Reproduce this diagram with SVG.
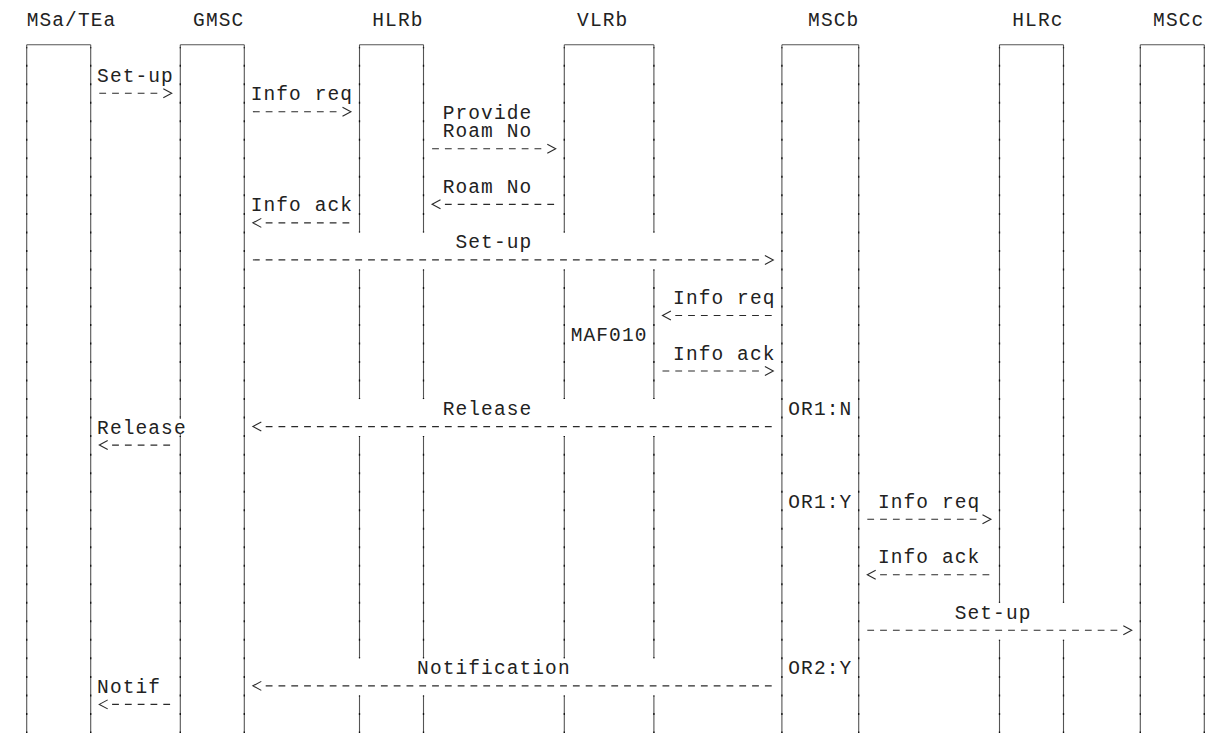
<svg xmlns="http://www.w3.org/2000/svg" width="1211" height="733" viewBox="0 0 1211 733">
<style>
  text { font-family: "Liberation Mono", "Courier New", monospace; font-size: 19.5px; letter-spacing: 1.1px; fill: #222; }
  .ll { stroke: #555; stroke-width: 1.1; fill: none; }
  .tk { stroke: #111; stroke-width: 1.3; fill: none; stroke-dasharray: 1 16.52 1 0; }
  .top { stroke: #555; stroke-width: 1.1; fill: none; }
  .msg { stroke: #2a2a2a; stroke-width: 1.1; fill: none; stroke-dasharray: 6.8 6; }
  .msg.r { marker-end: url(#ahR); }
  .msg.l { marker-end: url(#ahL); }
</style>
<defs>
  <marker id="ahR" markerUnits="userSpaceOnUse" markerWidth="20" markerHeight="12" refX="0" refY="6" orient="auto" overflow="visible">
    <path d="M6,1.5 L14.4,6 L6,10.5" fill="none" stroke="#2a2a2a" stroke-width="1.1" stroke-dasharray="none"/>
  </marker>
  <marker id="ahL" markerUnits="userSpaceOnUse" markerWidth="20" markerHeight="12" refX="0" refY="6" orient="auto" overflow="visible">
    <path d="M4.4,1.5 L12.8,6 L4.4,10.5" fill="none" stroke="#2a2a2a" stroke-width="1.1" stroke-dasharray="none"/>
  </marker>
</defs>
<rect width="1211" height="733" fill="#ffffff"/>

<g id="MSaTEa">
  <text x="26.7" y="25.7">MSa/TEa</text>
  <line class="top" x1="26.7" y1="44.7" x2="90.7" y2="44.7"/>
  <line class="ll" x1="26.7" y1="44.7" x2="26.7" y2="733"/>
  <line class="ll" x1="90.7" y1="44.7" x2="90.7" y2="733"/>
  <line class="tk" x1="26.7" y1="47.2" x2="26.7" y2="733"/>
  <line class="tk" x1="90.7" y1="47.2" x2="90.7" y2="733"/>
</g>

<g id="GMSC">
  <text x="193.1" y="25.7">GMSC</text>
  <line class="top" x1="180.3" y1="44.7" x2="244.3" y2="44.7"/>
  <line class="ll" x1="180.3" y1="44.7" x2="180.3" y2="419"/>
  <line class="ll" x1="180.3" y1="434" x2="180.3" y2="733"/>
  <line class="ll" x1="244.3" y1="44.7" x2="244.3" y2="733"/>
  <line class="tk" x1="180.3" y1="47.2" x2="180.3" y2="417.6"/>
  <line class="tk" x1="180.3" y1="436.12" x2="180.3" y2="733"/>
  <line class="tk" x1="244.3" y1="47.2" x2="244.3" y2="733"/>
</g>

<g id="HLRb">
  <text x="372.3" y="25.7">HLRb</text>
  <line class="top" x1="359.5" y1="44.7" x2="423.5" y2="44.7"/>
  <line class="ll" x1="359.5" y1="44.7" x2="359.5" y2="232.4"/>
  <line class="ll" x1="359.5" y1="269.44" x2="359.5" y2="399.08"/>
  <line class="ll" x1="359.5" y1="436.12" x2="359.5" y2="658.36"/>
  <line class="ll" x1="359.5" y1="695.4" x2="359.5" y2="733"/>
  <line class="ll" x1="423.5" y1="44.7" x2="423.5" y2="232.4"/>
  <line class="ll" x1="423.5" y1="269.44" x2="423.5" y2="399.08"/>
  <line class="ll" x1="423.5" y1="436.12" x2="423.5" y2="658.36"/>
  <line class="ll" x1="423.5" y1="695.4" x2="423.5" y2="733"/>
  <line class="tk" x1="359.5" y1="47.2" x2="359.5" y2="232.4"/>
  <line class="tk" x1="359.5" y1="269.44" x2="359.5" y2="399.08"/>
  <line class="tk" x1="359.5" y1="436.12" x2="359.5" y2="658.36"/>
  <line class="tk" x1="359.5" y1="695.4" x2="359.5" y2="733"/>
  <line class="tk" x1="423.5" y1="47.2" x2="423.5" y2="232.4"/>
  <line class="tk" x1="423.5" y1="269.44" x2="423.5" y2="399.08"/>
  <line class="tk" x1="423.5" y1="436.12" x2="423.5" y2="658.36"/>
  <line class="tk" x1="423.5" y1="695.4" x2="423.5" y2="733"/>
</g>

<g id="VLRb">
  <text x="577.1" y="25.7">VLRb</text>
  <line class="top" x1="564.3" y1="44.7" x2="653.9" y2="44.7"/>
  <line class="ll" x1="564.3" y1="44.7" x2="564.3" y2="232.4"/>
  <line class="ll" x1="564.3" y1="269.44" x2="564.3" y2="399.08"/>
  <line class="ll" x1="564.3" y1="436.12" x2="564.3" y2="658.36"/>
  <line class="ll" x1="564.3" y1="695.4" x2="564.3" y2="733"/>
  <line class="ll" x1="653.9" y1="44.7" x2="653.9" y2="232.4"/>
  <line class="ll" x1="653.9" y1="269.44" x2="653.9" y2="399.08"/>
  <line class="ll" x1="653.9" y1="436.12" x2="653.9" y2="658.36"/>
  <line class="ll" x1="653.9" y1="695.4" x2="653.9" y2="733"/>
  <line class="tk" x1="564.3" y1="47.2" x2="564.3" y2="232.4"/>
  <line class="tk" x1="564.3" y1="269.44" x2="564.3" y2="399.08"/>
  <line class="tk" x1="564.3" y1="436.12" x2="564.3" y2="658.36"/>
  <line class="tk" x1="564.3" y1="695.4" x2="564.3" y2="733"/>
  <line class="tk" x1="653.9" y1="47.2" x2="653.9" y2="232.4"/>
  <line class="tk" x1="653.9" y1="269.44" x2="653.9" y2="399.08"/>
  <line class="tk" x1="653.9" y1="436.12" x2="653.9" y2="658.36"/>
  <line class="tk" x1="653.9" y1="695.4" x2="653.9" y2="733"/>
  <text x="570.7" y="340.98">MAF010</text>
</g>

<g id="MSCb">
  <text x="808.1" y="25.7">MSCb</text>
  <line class="top" x1="781.9" y1="44.7" x2="858.7" y2="44.7"/>
  <line class="ll" x1="781.9" y1="44.7" x2="781.9" y2="733"/>
  <line class="ll" x1="858.7" y1="44.7" x2="858.7" y2="733"/>
  <line class="tk" x1="781.9" y1="47.2" x2="781.9" y2="733"/>
  <line class="tk" x1="858.7" y1="47.2" x2="858.7" y2="733"/>
  <text x="788.3" y="415.06">OR1:N</text>
  <text x="788.3" y="507.66">OR1:Y</text>
  <text x="788.3" y="674.34">OR2:Y</text>
</g>

<g id="HLRc">
  <text x="1012.3" y="25.7">HLRc</text>
  <line class="top" x1="999.5" y1="44.7" x2="1063.5" y2="44.7"/>
  <line class="ll" x1="999.5" y1="44.7" x2="999.5" y2="602.8"/>
  <line class="ll" x1="999.5" y1="639.84" x2="999.5" y2="733"/>
  <line class="ll" x1="1063.5" y1="44.7" x2="1063.5" y2="602.8"/>
  <line class="ll" x1="1063.5" y1="639.84" x2="1063.5" y2="733"/>
  <line class="tk" x1="999.5" y1="47.2" x2="999.5" y2="602.8"/>
  <line class="tk" x1="999.5" y1="639.84" x2="999.5" y2="733"/>
  <line class="tk" x1="1063.5" y1="47.2" x2="1063.5" y2="602.8"/>
  <line class="tk" x1="1063.5" y1="639.84" x2="1063.5" y2="733"/>
</g>

<g id="MSCc">
  <text x="1153.1" y="25.7">MSCc</text>
  <line class="top" x1="1140.3" y1="44.7" x2="1204.3" y2="44.7"/>
  <line class="ll" x1="1140.3" y1="44.7" x2="1140.3" y2="733"/>
  <line class="ll" x1="1204.3" y1="44.7" x2="1204.3" y2="733"/>
  <line class="tk" x1="1140.3" y1="47.2" x2="1140.3" y2="733"/>
  <line class="tk" x1="1204.3" y1="47.2" x2="1204.3" y2="733"/>
</g>

<g id="connectors">
  <path class="msg r" d="M99.3,93.2 H157.3"/>
  <path class="msg r" d="M252.9,111.74 H336.5"/>
  <path class="msg r" d="M432.1,148.78 H541.3"/>
  <path class="msg l" d="M554.1,204.34 H444.9"/>
  <path class="msg l" d="M349.3,222.86 H265.7"/>
  <path class="msg r" d="M252.9,259.9 H758.9"/>
  <path class="msg l" d="M771.7,315.46 H675.3"/>
  <path class="msg r" d="M662.5,371.02 H758.9"/>
  <path class="msg l" d="M771.7,426.58 H265.7"/>
  <path class="msg l" d="M170.1,445.1 H112.1"/>
  <path class="msg r" d="M867.3,519.18 H976.5"/>
  <path class="msg l" d="M989.3,574.74 H880.1"/>
  <path class="msg r" d="M867.3,630.3 H1117.3"/>
  <path class="msg l" d="M771.7,685.86 H265.7"/>
  <path class="msg l" d="M170.1,704.38 H112.1"/>

  <text x="97.1" y="81.7">Set-up</text>
  <text x="250.7" y="100.22">Info req</text>
  <text x="442.7" y="118.74">Provide<tspan x="442.7" dy="18.52">Roam No</tspan></text>
  <text x="442.7" y="192.82">Roam No</text>
  <text x="250.7" y="211.34">Info ack</text>
  <text x="455.5" y="248.38">Set-up</text>
  <text x="673.1" y="303.94">Info req</text>
  <text x="673.1" y="359.5">Info ack</text>
  <text x="442.7" y="415.06">Release</text>
  <text x="97.1" y="433.58">Release</text>
  <text x="877.9" y="507.66">Info req</text>
  <text x="877.9" y="563.22">Info ack</text>
  <text x="954.7" y="618.78">Set-up</text>
  <text x="417.1" y="674.34">Notification</text>
  <text x="97.1" y="692.86">Notif</text>
</g>
</svg>
